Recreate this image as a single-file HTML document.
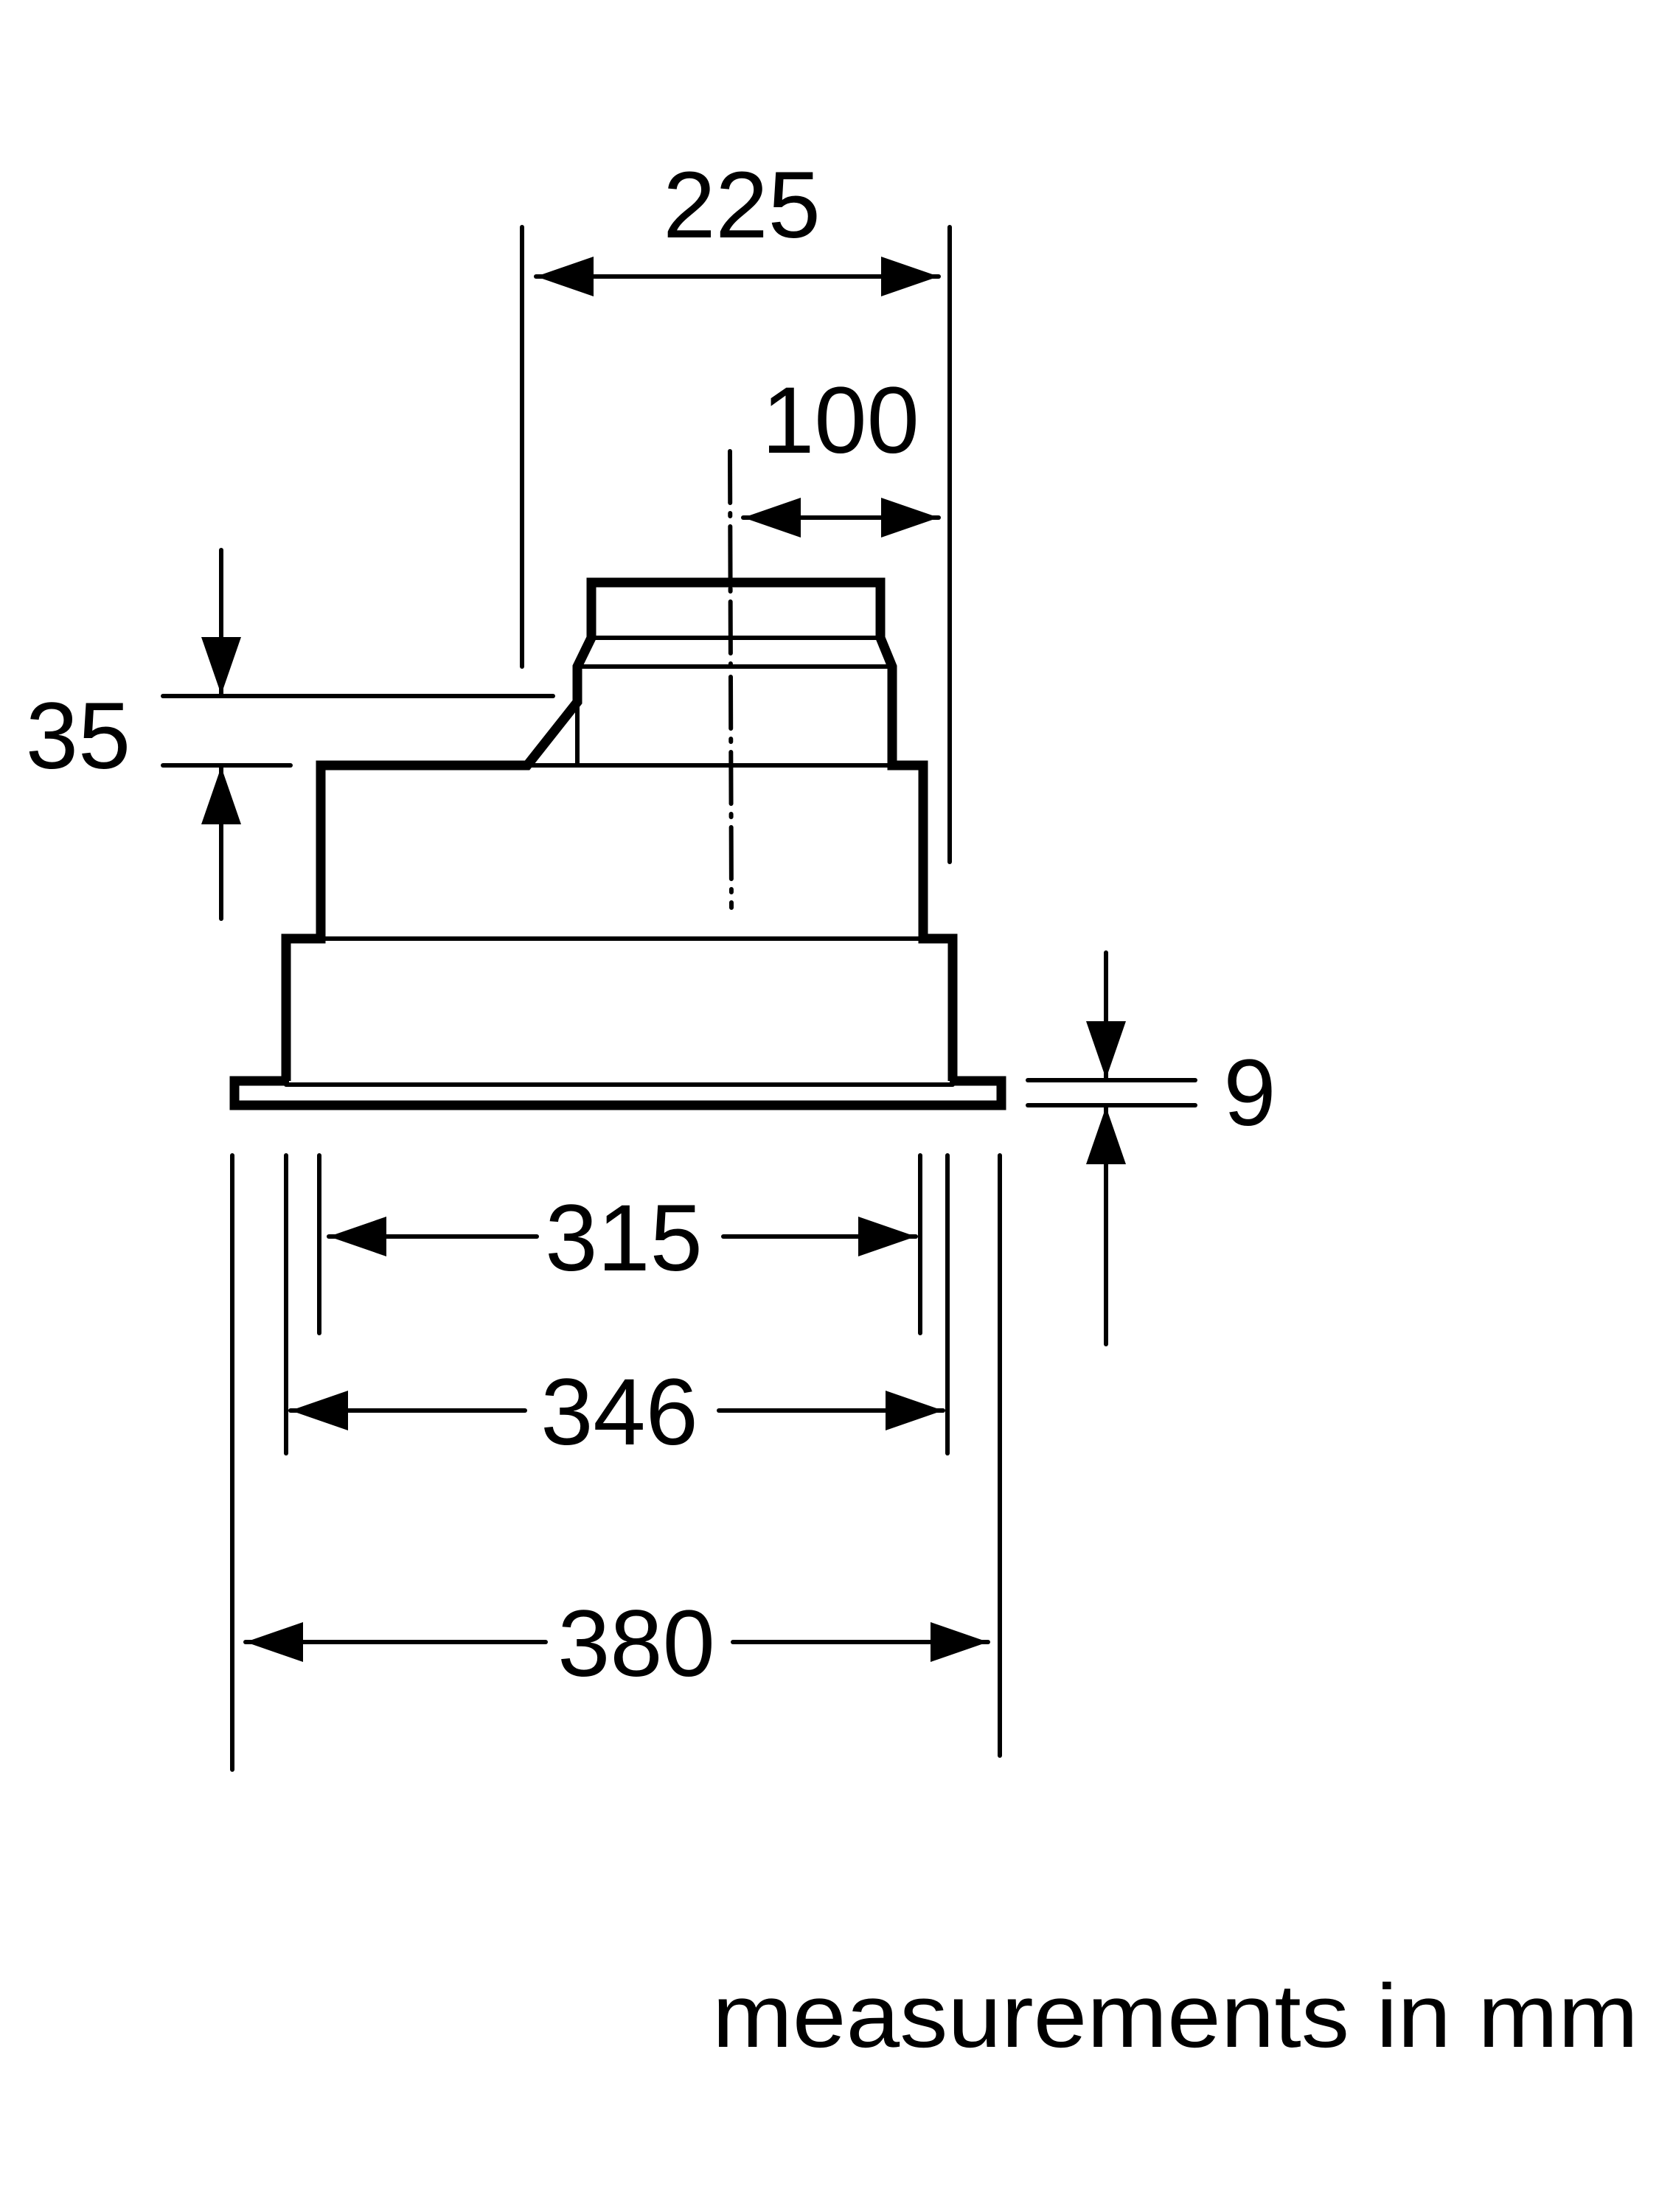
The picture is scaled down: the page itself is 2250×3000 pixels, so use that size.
<!DOCTYPE html>
<html><head><meta charset="utf-8"><style>html,body{margin:0;padding:0;background:#fff}svg{display:block}</style></head>
<body>
<svg width="2250" height="3000" viewBox="0 0 2250 3000" xmlns="http://www.w3.org/2000/svg">
<defs>
<marker id="a" viewBox="0 0 78 54" refX="78" refY="27" markerWidth="78" markerHeight="54" markerUnits="userSpaceOnUse" orient="auto-start-reverse"><path d="M0,0 L78,27 L0,54 Z" fill="#000"/></marker>
</defs>
<g fill="none" stroke="#000" stroke-linecap="round" stroke-linejoin="miter">
<g stroke-width="6">
<line x1="708" y1="308" x2="708" y2="904"/>
<line x1="1288" y1="308" x2="1288" y2="1169"/>
<line x1="221" y1="944" x2="750" y2="944"/>
<line x1="221" y1="1038" x2="394" y2="1038"/>
<line x1="1394" y1="1465" x2="1621" y2="1465"/>
<line x1="1394" y1="1499" x2="1621" y2="1499"/>
<line x1="315" y1="1567" x2="315" y2="2400"/>
<line x1="388" y1="1567" x2="388" y2="1971"/>
<line x1="433" y1="1567" x2="433" y2="1808"/>
<line x1="1248" y1="1567" x2="1248" y2="1808"/>
<line x1="1285" y1="1567" x2="1285" y2="1971"/>
<line x1="1356" y1="1567" x2="1356" y2="2381"/>
<line x1="990" y1="612" x2="992" y2="1231" stroke-dasharray="70,14,4,14"/>
<line x1="727" y1="375" x2="1273" y2="375" marker-start="url(#a)" marker-end="url(#a)"/>
<line x1="1008" y1="702" x2="1273" y2="702" marker-start="url(#a)" marker-end="url(#a)"/>
<line x1="300" y1="746" x2="300" y2="942" marker-end="url(#a)"/>
<line x1="300" y1="1246" x2="300" y2="1040" marker-end="url(#a)"/>
<line x1="1500" y1="1292" x2="1500" y2="1463" marker-end="url(#a)"/>
<line x1="1500" y1="1823" x2="1500" y2="1501" marker-end="url(#a)"/>
<line x1="446" y1="1677" x2="728" y2="1677" marker-start="url(#a)"/>
<line x1="981" y1="1677" x2="1242" y2="1677" marker-end="url(#a)"/>
<line x1="394" y1="1913" x2="712" y2="1913" marker-start="url(#a)"/>
<line x1="975" y1="1913" x2="1279" y2="1913" marker-end="url(#a)"/>
<line x1="333" y1="2227" x2="740" y2="2227" marker-start="url(#a)"/>
<line x1="994" y1="2227" x2="1340" y2="2227" marker-end="url(#a)"/>
<line x1="802" y1="865" x2="1194" y2="865"/>
<line x1="783" y1="904" x2="1210" y2="904"/>
<line x1="783" y1="952" x2="783" y2="1038"/>
<line x1="715" y1="1038" x2="1210" y2="1038"/>
<line x1="435" y1="1273" x2="1252" y2="1273"/>
<line x1="388" y1="1471" x2="1292" y2="1471"/>
</g>
<g stroke-width="13" stroke-linecap="butt">
<path d="M802,865 L802,790 L1194,790 L1194,865 L1210,904 L1210,1038 L1252,1038 L1252,1273 L1292,1273 L1292,1466"/>
<path d="M802,865 L783,904 L783,952 L715,1038 L435,1038 L435,1273 L388,1273 L388,1466"/>
<path d="M392,1466 L318,1466 L318,1499 L1358,1499 L1358,1466 L1288,1466"/>
</g>
</g>
<g font-family="Liberation Sans, sans-serif" font-size="128" fill="#000" text-anchor="middle">
<text x="1006" y="322">225</text>
<text x="1140" y="614">100</text>
<text x="106" y="1042">35</text>
<text x="1695" y="1526">9</text>
<text x="846" y="1723">315</text>
<text x="840" y="1959">346</text>
<text x="863" y="2273">380</text>
</g>
<text x="966" y="2776" font-family="Liberation Sans, sans-serif" font-size="122" textLength="1256" lengthAdjust="spacingAndGlyphs">measurements in mm</text>
</svg>
</body></html>
